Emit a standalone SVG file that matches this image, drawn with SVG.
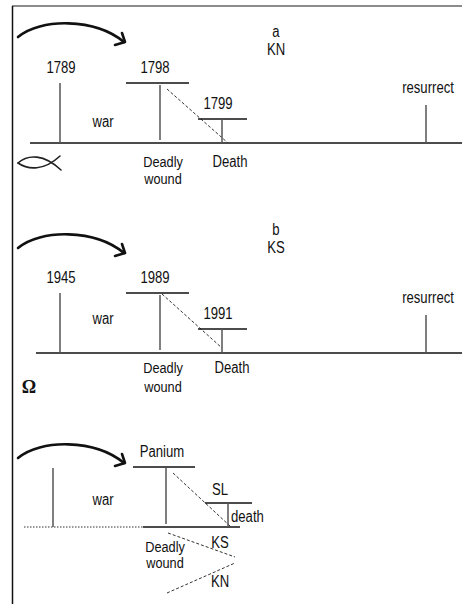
<svg xmlns="http://www.w3.org/2000/svg" width="466" height="604" viewBox="0 0 466 604">
<style>
text{font-family:"Liberation Sans",Arial,sans-serif;font-size:16px;fill:#111;text-anchor:middle}
.st{text-anchor:start}
.sm{font-size:15px}
.base{stroke:#111;stroke-width:1.5;fill:none}
.vert{stroke:#555;stroke-width:1.5;fill:none}
.top{stroke:#111;stroke-width:1.3;fill:none}
.dash{stroke:#333;stroke-width:1;stroke-dasharray:3,2;fill:none}
.dot{stroke:#333;stroke-width:1.2;stroke-dasharray:1.5,1.5;fill:none}
.arc{stroke:#111;stroke-width:2.6;fill:none;stroke-linecap:round;stroke-linejoin:round}
</style>
<rect width="466" height="604" fill="#fff"/>
<g id="frame">
<line x1="12" y1="6" x2="462" y2="6" stroke="#666" stroke-width="1.6"/>
<line x1="12.5" y1="6" x2="12.5" y2="604" stroke="#111" stroke-width="1.5"/>
</g>
<g id="connectors">
<path class="arc" d="M18,37 C40,18 95,18 124,42"/>
<path class="arc" d="M122,33 L125,42 L115,45"/>
<path class="arc" d="M18,248 C40,229 95,229 124,253"/>
<path class="arc" d="M122,244 L125,253 L115,256"/>
<path class="arc" d="M18,458 C40,439 95,439 124,463"/>
<path class="arc" d="M122,454 L125,463 L115,466"/>
</g>
<g id="section-a">
<line class="base" x1="30" y1="143" x2="462" y2="143"/>
<line class="vert" x1="60" y1="83" x2="60" y2="143"/>
<line class="top" x1="126" y1="83" x2="189" y2="83"/>
<line class="vert" x1="160" y1="85" x2="160" y2="140"/>
<line class="dash" x1="167" y1="89" x2="228" y2="143"/>
<line class="top" x1="198" y1="119" x2="247" y2="119"/>
<line class="vert" x1="222" y1="119" x2="222" y2="143"/>
<line class="vert" x1="426" y1="105" x2="426" y2="143"/>
<text transform="translate(61 73) scale(0.82 1)">1789</text>
<text transform="translate(155 73) scale(0.82 1)">1798</text>
<text transform="translate(218 109) scale(0.82 1)">1799</text>
<text transform="translate(103 127) scale(0.82 1)">war</text>
<text class="sm" transform="translate(163 167) scale(0.85 1)">Deadly</text>
<text class="sm" transform="translate(163 184) scale(0.85 1)">wound</text>
<text transform="translate(230 167) scale(0.82 1)">Death</text>
<text transform="translate(276 37) scale(0.82 1)">a</text>
<text transform="translate(276 55) scale(0.82 1)">KN</text>
<text transform="translate(428 93) scale(0.82 1)">resurrect</text>
<g id="fish" fill="none" stroke="#222" stroke-width="1.6" stroke-linecap="round">
<path d="M18,163 C28,154 44,154 61,170"/>
<path d="M18,163 C28,170 44,171 60,156"/>
</g>
</g>
<g id="section-b">
<line class="base" x1="36" y1="353" x2="462" y2="353"/>
<line class="vert" x1="60" y1="293" x2="60" y2="353"/>
<line class="top" x1="126" y1="293" x2="189" y2="293"/>
<line class="vert" x1="160" y1="295" x2="160" y2="350"/>
<line class="dash" x1="162" y1="294" x2="222" y2="348"/>
<line class="top" x1="198" y1="329" x2="247" y2="329"/>
<line class="vert" x1="222" y1="329" x2="222" y2="353"/>
<line class="vert" x1="426" y1="315" x2="426" y2="353"/>
<text transform="translate(61 283) scale(0.82 1)">1945</text>
<text transform="translate(155 283) scale(0.82 1)">1989</text>
<text transform="translate(218 319) scale(0.82 1)">1991</text>
<text transform="translate(103 324) scale(0.82 1)">war</text>
<text class="sm" transform="translate(163 373) scale(0.85 1)">Deadly</text>
<text class="sm" transform="translate(163 392) scale(0.85 1)">wound</text>
<text transform="translate(232 373) scale(0.82 1)">Death</text>
<text transform="translate(276 235) scale(0.82 1)">b</text>
<text transform="translate(276 253) scale(0.82 1)">KS</text>
<text transform="translate(428 303) scale(0.82 1)">resurrect</text>
<text x="29" y="393" style="font-family:'Liberation Serif',serif;font-weight:bold;font-size:18px">Ω</text>
</g>
<g id="section-c">
<line class="dot" x1="24" y1="527" x2="143" y2="527"/>
<line class="base" x1="143" y1="527" x2="240" y2="527"/>
<line class="vert" x1="53" y1="468" x2="53" y2="527"/>
<line class="top" x1="133" y1="467" x2="195" y2="467"/>
<line class="vert" x1="166" y1="468" x2="166" y2="524"/>
<line class="dash" x1="173" y1="473" x2="230" y2="526"/>
<line class="top" x1="205" y1="503" x2="252" y2="503"/>
<line class="vert" x1="228" y1="503" x2="228" y2="527"/>
<line class="dash" x1="168" y1="533" x2="235" y2="557"/>
<line class="dash" x1="167" y1="593" x2="235" y2="563"/>
<text transform="translate(162 457) scale(0.82 1)">Panium</text>
<text transform="translate(103 505) scale(0.82 1)">war</text>
<text transform="translate(220 495) scale(0.82 1)">SL</text>
<text class="st" transform="translate(231 522) scale(0.82 1)">death</text>
<text class="sm" transform="translate(165 552) scale(0.85 1)">Deadly</text>
<text class="sm" transform="translate(165 568) scale(0.85 1)">wound</text>
<text transform="translate(220 548) scale(0.82 1)">KS</text>
<text transform="translate(220 587) scale(0.82 1)">KN</text>
</g>
</svg>
